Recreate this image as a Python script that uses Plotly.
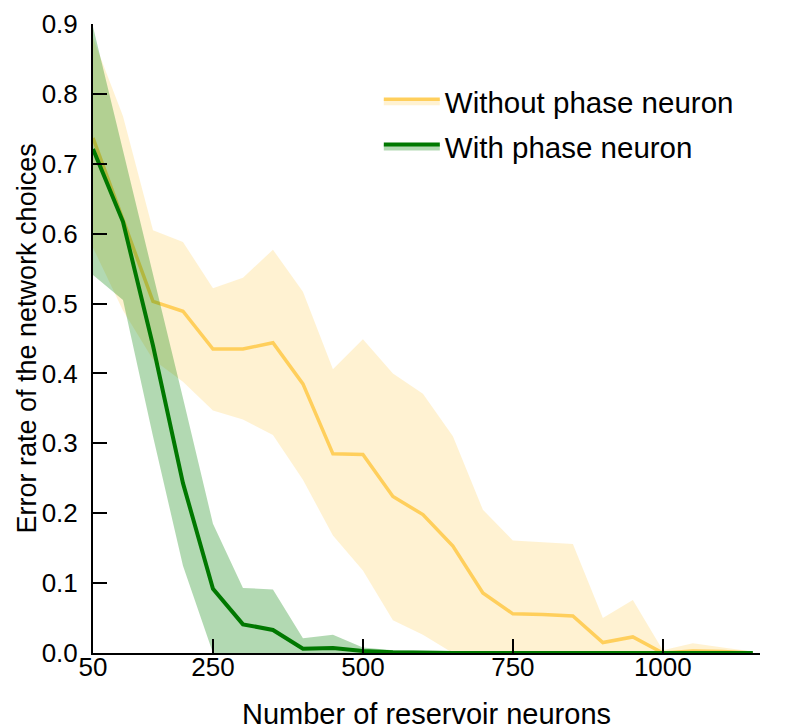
import plotly.graph_objects as go

# ---------------- data ----------------
neurons = [50, 100, 150, 200, 250, 300, 350, 400, 450, 500, 550, 600,
           650, 700, 750, 800, 850, 900, 950, 1000, 1050, 1100, 1150]

without_mean = [0.737, 0.620, 0.503, 0.489, 0.435, 0.435, 0.444, 0.385, 0.285, 0.284,
                0.224, 0.198, 0.153, 0.086, 0.056, 0.055, 0.053, 0.015, 0.023, 0.000,
                0.003, 0.002, 0.000]
without_upper = [0.880, 0.768, 0.605, 0.588, 0.522, 0.537, 0.577, 0.517, 0.406, 0.449,
                 0.400, 0.371, 0.310, 0.205, 0.161, 0.158, 0.156, 0.050, 0.076, 0.004,
                 0.014, 0.008, 0.002]
without_lower = [0.580, 0.490, 0.420, 0.388, 0.347, 0.334, 0.312, 0.248, 0.168, 0.118,
                 0.047, 0.026, 0.000, 0.000, 0.000, 0.000, 0.000, 0.000, 0.000, 0.000,
                 0.000, 0.000, 0.000]

with_mean = [0.721, 0.617, 0.440, 0.243, 0.092, 0.041, 0.033, 0.006, 0.007, 0.003,
             0.001, 0.000, 0.000, 0.000, 0.000, 0.000, 0.000, 0.000, 0.000, 0.000,
             0.000, 0.000, 0.000]
with_upper = [0.896, 0.720, 0.540, 0.365, 0.185, 0.093, 0.091, 0.021, 0.026, 0.008,
              0.004, 0.003, 0.003, 0.003, 0.003, 0.003, 0.003, 0.003, 0.003, 0.003,
              0.003, 0.003, 0.002]
with_lower = [0.541, 0.505, 0.310, 0.125, 0.000, 0.000, 0.000, 0.000, 0.000, 0.000,
              0.000, 0.000, 0.000, 0.000, 0.000, 0.000, 0.000, 0.000, 0.000, 0.000,
              0.000, 0.000, 0.000]

series_names = ["Without phase neuron", "With phase neuron"]
x_tickvals = [50, 250, 500, 750, 1000]
y_tickvals = [0.0, 0.1, 0.2, 0.3, 0.4, 0.5, 0.6, 0.7, 0.8, 0.9]
x_title = "Number of reservoir neurons"
y_title = "Error rate of the network choices"

# ---------------- style ----------------
ORANGE_LINE = "#FFCF5C"
ORANGE_FILL = "rgba(255,204,77,0.25)"
GREEN_LINE = "#007800"
GREEN_FILL = "rgba(0,128,0,0.30)"
FONT = "Liberation Sans, Arial, sans-serif"

fig = go.Figure()


def add_band(name, mean, upper, lower, line_color, fill_color, width, group):
    fig.add_trace(go.Scatter(x=neurons, y=upper, mode="lines",
                             line=dict(width=0, color=fill_color),
                             showlegend=False, hoverinfo="skip", legendgroup=group))
    fig.add_trace(go.Scatter(x=neurons, y=mean, mode="lines", name=name,
                             line=dict(width=width, color=line_color),
                             fill="tonexty", fillcolor=fill_color,
                             legendgroup=group))
    fig.add_trace(go.Scatter(x=neurons, y=lower, mode="lines",
                             line=dict(width=0, color=fill_color),
                             fill="tonexty", fillcolor=fill_color,
                             showlegend=False, hoverinfo="skip", legendgroup=group))


add_band(series_names[0], without_mean, without_upper, without_lower,
         ORANGE_LINE, ORANGE_FILL, 3.5, "g1")
add_band(series_names[1], with_mean, with_upper, with_lower,
         GREEN_LINE, GREEN_FILL, 4, "g2")

fig.update_layout(
    width=800, height=728,
    paper_bgcolor="white", plot_bgcolor="white",
    margin=dict(l=85, r=48, t=16, b=83),
    font=dict(family=FONT, color="black", size=26),
    showlegend=True,
    legend=dict(x=0.4285, y=0.918, xanchor="left", yanchor="top",
                font=dict(size=29.5, family=FONT), bgcolor="rgba(0,0,0,0)",
                itemwidth=56, tracegroupgap=4),
    xaxis=dict(range=[50, 1162], tickvals=x_tickvals, ticks="inside", ticklen=14,
               tickwidth=2, tickcolor="black", showline=True, linecolor="black",
               linewidth=2, showgrid=False, zeroline=False, automargin=False,
               tickfont=dict(size=26), ticklabelstandoff=-10,
               ticklabeloverflow="allow",
               title=dict(text=x_title, font=dict(size=29), standoff=22)),
    yaxis=dict(range=[0, 0.9], tickvals=y_tickvals, tickformat=".1f",
               ticks="inside", ticklen=14, tickwidth=2, tickcolor="black",
               showline=True, linecolor="black", linewidth=2, showgrid=False,
               zeroline=False, automargin=False, tickfont=dict(size=26),
               ticklabelstandoff=8, ticklabeloverflow="allow"),
    annotations=[dict(text=y_title, xref="paper", yref="paper", x=0, y=0.5,
                      xanchor="center", yanchor="middle", xshift=-67,
                      textangle=-90, showarrow=False,
                      font=dict(size=27, family=FONT, color="black"))],
)

fig.write_html("out.html")
